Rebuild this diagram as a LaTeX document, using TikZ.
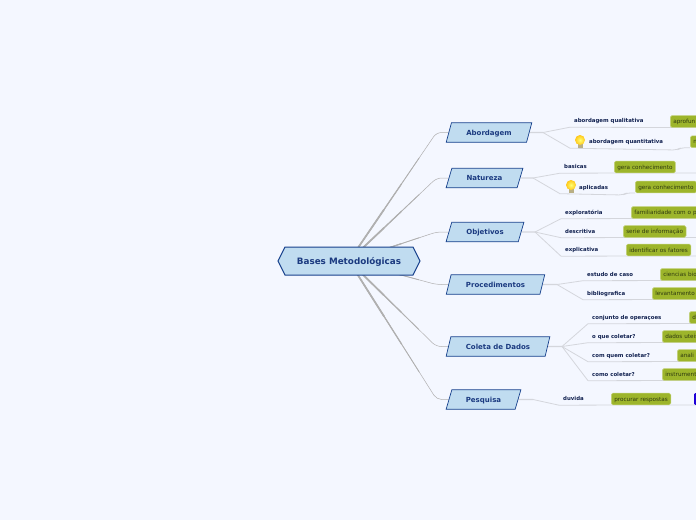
\documentclass[tikz,border=0pt]{standalone}
\usepackage{fontspec}
\setmainfont{DejaVu Sans}
\usetikzlibrary{shapes.geometric,shapes.symbols,backgrounds,calc}

\definecolor{pagebg}{HTML}{F4F7FF}
\definecolor{nodefill}{HTML}{C0DCF0}
\definecolor{nodeline}{HTML}{16408C}
\definecolor{nodetext}{HTML}{1B3A80}
\definecolor{subtext}{HTML}{10204F}
\definecolor{leaffill}{HTML}{9DB52B}
\definecolor{leafline}{HTML}{C4D27E}
\definecolor{leaftext}{HTML}{2F3A10}
\definecolor{maplink}{HTML}{B0B0B0}
\definecolor{sublink}{HTML}{D4D6DC}
\definecolor{bulbcol}{HTML}{FFC81A}
\definecolor{bulbbase}{HTML}{B9AF84}
\definecolor{caixacol}{HTML}{1E00D8}

\tikzset{
  rootnode/.style={signal, signal to=west and east, signal pointer angle=127, draw=nodeline, fill=nodefill,
    line width=1pt, text=nodetext, font=\bfseries\fontsize{8.8}{10}\selectfont, inner sep=0pt, minimum width=142pt, minimum height=28pt,
    text height=6.4pt, text depth=0pt},
  mainnode/.style={trapezium, trapezium left angle=58, trapezium right angle=122, trapezium stretches=true,
    draw=nodeline, fill=nodefill, line width=0.7pt, text=nodetext, font=\bfseries\fontsize{7}{8}\selectfont,
    inner sep=0pt, minimum height=19.5pt, text height=5.1pt, text depth=0pt},
  subnode/.style={anchor=west, inner ysep=0pt, inner xsep=4pt, minimum height=12pt, text=subtext,
    font=\bfseries\fontsize{5.4}{6}\selectfont, text height=3.9pt, text depth=0pt},
  leafnode/.style={anchor=west, rounded corners=1.5pt, fill=leaffill, draw=leafline, line width=0.5pt, text=leaftext,
    inner ysep=0pt, inner xsep=3pt, minimum height=11.6pt, font=\fontsize{5.7}{6}\selectfont, text height=4.2pt, text depth=0pt},
  toplink/.style={draw=maplink, rounded corners=5pt},
  branchlink/.style={draw=sublink, line width=0.8pt},
}

\begin{document}
\begin{tikzpicture}[x=1pt,y=-1pt]
    \clip (0,0) rectangle (696,520);
    \useasboundingbox (0,0) rectangle (696,520);

    % Central node
    \node[rootnode] (root) at (349,261) {Bases Metodológicas};

    % Main topics
    \foreach \name/\x/\y/\w/\txt in {abordagem/489/132.5/86/Abordagem, natureza/484.5/178/77/Natureza,
        objetivos/485/232/78/Objetivos, procedimentos/495.5/284.5/99/Procedimentos,
        coleta/498/346.5/104/Coleta de Dados, pesquisa/483.5/399.5/75/Pesquisa}
      \node[mainnode, minimum width=\w pt] (\name) at (\x,\y) {\txt};

    % Second level labels
    \foreach \name/\x/\y/\txt in {qualitativa/570/121/abordagem qualitativa, basicas/560/167/basicas,
        exploratoria/561/212.5/exploratória, descritiva/561/231.5/descritiva, explicativa/561/250/explicativa,
        caso/583/274.5/estudo de caso, bibliografica/583/293.5/bibliografica,
        operacoes/588/317.5/conjunto de operaçoes, oque/588/336.5/o que coletar?,
        quem/588/355.5/com quem coletar?, como/588/374.5/como coletar?, duvida/559/399/duvida}
      \node[subnode] (\name) at (\x,\y) {\txt};
    \node[subnode, inner xsep=19pt] (quantitativa) at (570,142) {abordagem quantitativa};
    \node[subnode, inner xsep=19pt] (aplicadas) at (560,187.5) {aplicadas};

    % Leaves
    \foreach \name/\x/\y/\txt in {geraum/614/167/gera conhecimento, geradois/635/187/gera conhecimento,
        serie/623/231.5/serie de informação, fatores/626/250/identificar os fatores,
        respostas/611/399/procurar respostas}
      \node[leafnode] (\name) at (\x,\y) {\txt};
    \foreach \name/\x/\y/\txt in {aprofun/670/121.5/aprofun, neutra/690/141.7/n, familia/631/212.5/familiaridade com o pr,
        ciencias/660/274.5/ciencias bio, levantamento/652/293.5/levantamento, dado/689/317.5/d,
        uteis/662/336.5/dados uteis, analise/677/355.5/anali, instrumento/662/374.5/instrument}
      \node[leafnode, minimum width=80pt, text width=74pt] (\name) at (\x,\y) {\txt};
    \node[anchor=west, rounded corners=1pt, fill=caixacol, minimum width=20pt, minimum height=11.6pt] (caixa) at (694,399) {};

    % Light bulbs
    \foreach \name/\x/\y in {lampum/580/140, lampdois/571/185}{
      \fill[bulbbase] ($(\x,\y)+(-2.5,3)$) rectangle ($(\x,\y)+(2.5,8)$);
      \node[circle, inner color=yellow!55, outer color=bulbcol, inner sep=0pt, minimum size=10pt] (\name) at (\x,\y) {};
    }

    \begin{scope}[on background layer]
      \fill[pagebg] (0,0) rectangle (696,520);

      % Links from the centre, thick near the root
      \foreach \child in {abordagem,natureza,objetivos,procedimentos,coleta,pesquisa}{
        \draw[toplink, line width=0.5pt] (root.center) -- ($(\child.west)+(-12,0)$) -- (\child.west);
        \foreach \w/\p in {0.8/0.8, 1.2/0.6, 1.7/0.4}
          \draw[draw=maplink, line width=\w pt] (root.center) -- ($(root.center)!\p!($(\child.west)+(-12,0)$)$);
      }

      % Links to the second level
      \coordinate (jabordagem) at (543,132.5);
      \coordinate (jnatureza) at (533,178);
      \coordinate (jobjetivos) at (535,232);
      \coordinate (jprocedimentos) at (557,284.5);
      \coordinate (jcoleta) at (562,346.5);
      \coordinate (jpesquisa) at (533,399.5);
      \foreach \parent/\kids in {abordagem/{qualitativa,quantitativa}, natureza/{basicas,aplicadas},
          objetivos/{exploratoria,descritiva,explicativa}, procedimentos/{caso,bibliografica},
          coleta/{operacoes,oque,quem,como}, pesquisa/{duvida}}{
        \draw[branchlink, line width=1.2pt] (\parent.east) -- (j\parent);
        \foreach \kid in \kids
          \draw[branchlink] (j\parent) -- (\kid.south west);
      }

      % Lines under the labels, on through the leaves
      \foreach \kid/\leaf in {qualitativa/aprofun, basicas/geraum, exploratoria/familia, descritiva/serie,
          explicativa/fatores, caso/ciencias, bibliografica/levantamento, operacoes/dado, oque/uteis,
          quem/analise, como/instrumento, duvida/respostas}{
        \draw[branchlink] (\kid.south west) -- (\leaf.south west) -- (\leaf.south west -| caixa.east);
      }
      \draw[branchlink, rounded corners=4pt] (quantitativa.south west) -- (677,150) -- (681,147.7) -- (neutra.south west);
      \draw[branchlink, rounded corners=4pt] (aplicadas.south west) -- (623,195) -- (627,192.8) -- (geradois.south west);
    \end{scope}
\end{tikzpicture}
\end{document}
